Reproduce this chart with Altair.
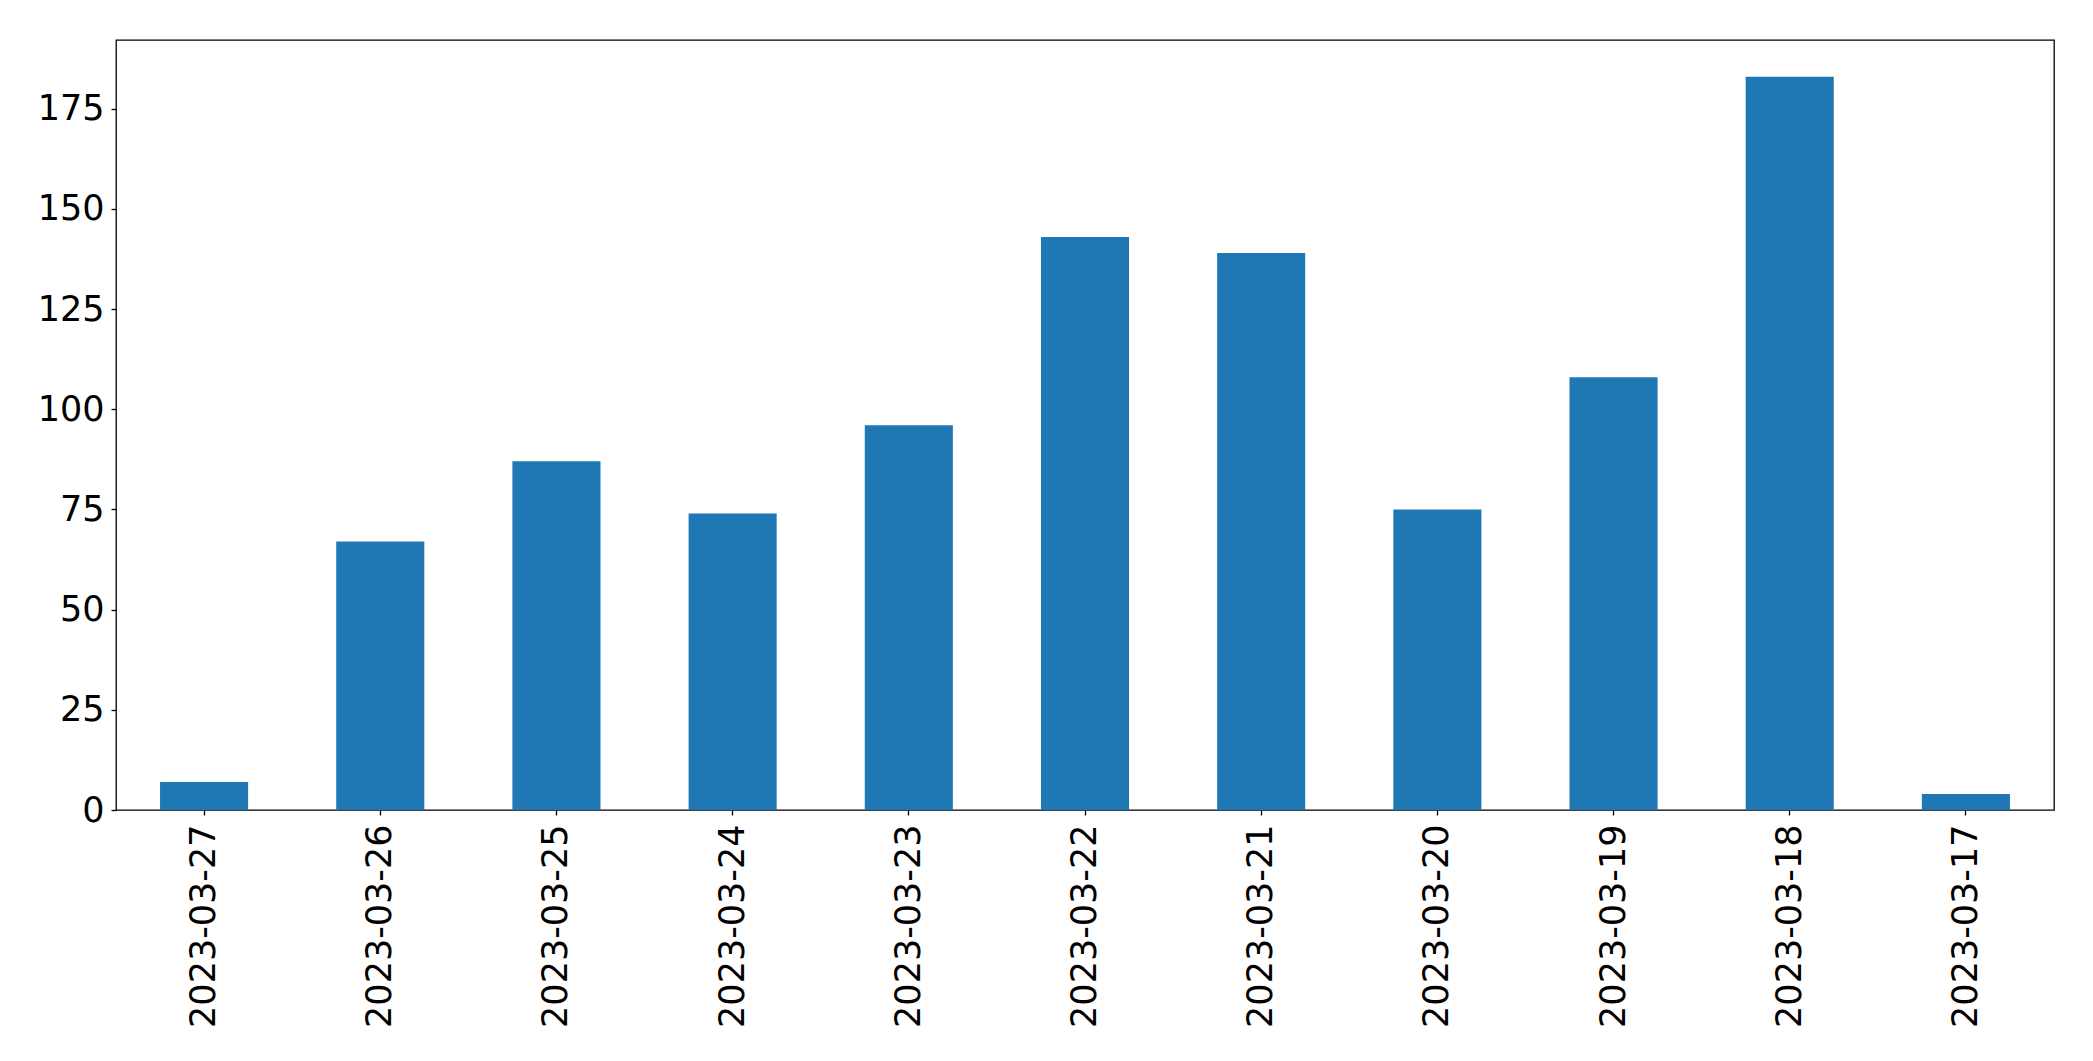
import altair as alt
import pandas as pd

dates = ["2023-03-27", "2023-03-26", "2023-03-25", "2023-03-24", "2023-03-23",
         "2023-03-22", "2023-03-21", "2023-03-20", "2023-03-19", "2023-03-18",
         "2023-03-17"]
counts = [7, 67, 87, 74, 96, 143, 139, 75, 108, 183, 4]
y_ticks = [0, 25, 50, 75, 100, 125, 150, 175]

df = pd.DataFrame({"date": dates, "count": counts})

chart = alt.Chart(df).mark_bar(color="#1f77b4").encode(
    x=alt.X("date:N", sort=dates, title=None,
            scale=alt.Scale(paddingInner=0.5, paddingOuter=0.25),
            axis=alt.Axis(labelAngle=270, labelFontSize=35, labelFont="DejaVu Sans",
                          labelColor="black", tickColor="black", tickSize=5, tickWidth=1.3,
                          labelPadding=9, labelLimit=0, domain=False, grid=False)),
    y=alt.Y("count:Q", title=None,
            scale=alt.Scale(domain=[0, 192.15], nice=False, zero=True),
            axis=alt.Axis(values=y_ticks, labelFontSize=35, labelFont="DejaVu Sans",
                          labelColor="black", tickColor="black", tickSize=5, tickWidth=1.3,
                          labelPadding=7, labelLimit=0, domain=False, grid=False)),
).properties(
    width=1938, height=770,
    autosize=alt.AutoSizeParams(type="none"),
    padding={"left": 116, "top": 40, "right": 39, "bottom": 251},
).configure(
    background="white"
).configure_view(
    stroke="black", strokeWidth=1.3
)

chart.save("out.html", embed_options={"renderer": "svg", "actions": False})
